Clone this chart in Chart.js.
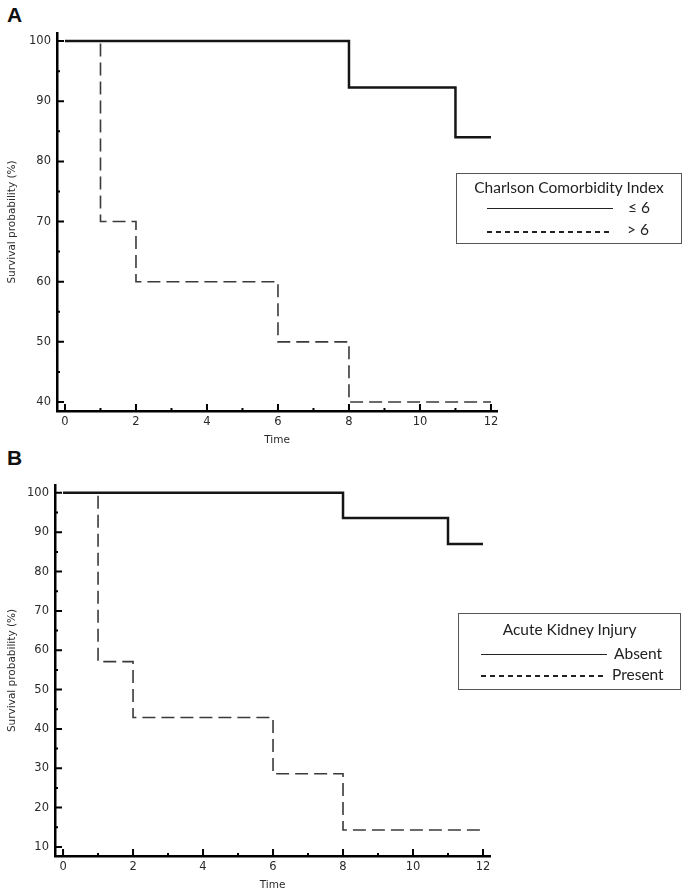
<!DOCTYPE html>
<html>
<head>
<meta charset="utf-8">
<script src="https://cdn.jsdelivr.net/npm/chart.js@4.4.1/dist/chart.umd.min.js"></script>
<style>
  html, body { margin: 0; padding: 0; background: #fff; }
  body { width: 685px; height: 894px; position: relative; overflow: hidden; }
  canvas { position: absolute; left: 0; }
  .panel { position: absolute; font: bold 21px "Liberation Sans", Arial, sans-serif; color: #111; }
  .legend { position: absolute; border: 1px solid #555; box-sizing: border-box; font-family: Lato, "Liberation Sans", sans-serif; color: #222; }
  .legend .ttl { position: absolute; left: 0; right: 0; text-align: center; font-size: 15.5px; }
  .legend .lab { position: absolute; font-size: 15.5px; }
  .legend .solid { position: absolute; height: 0; border-top: 1.6px solid #222; }
  .legend .dash { position: absolute; height: 1.6px; background: repeating-linear-gradient(90deg, #222 0 5px, transparent 5px 9px); }
</style>
</head>
<body>
<div class="panel" style="left:7px;top:3px">A</div>
<div class="panel" style="left:7px;top:446px">B</div>
<canvas id="chartA" width="685" height="450" style="top:0"></canvas>
<canvas id="chartB" width="685" height="444" style="top:450px"></canvas>

<div class="legend" style="left:456px;top:173px;width:226px;height:71px">
  <div class="ttl" style="top:4px">Charlson Comorbidity Index</div>
  <div class="solid" style="left:30px;width:126px;top:34px"></div>
  <div class="lab" style="left:171px;top:24px">≤ 6</div>
  <div class="dash" style="left:30px;width:126px;top:57px"></div>
  <div class="lab" style="left:170px;top:46px">&gt; 6</div>
</div>

<div class="legend" style="left:458px;top:613px;width:223px;height:77px">
  <div class="ttl" style="top:6px">Acute Kidney Injury</div>
  <div class="solid" style="left:22px;width:126px;top:40px"></div>
  <div class="lab" style="left:155px;top:30px">Absent</div>
  <div class="dash" style="left:22px;width:126px;top:61px"></div>
  <div class="lab" style="left:153px;top:51px">Present</div>
</div>

<script>
// tick labels
const timeTicks = [0, 2, 4, 6, 8, 10, 12];
const timeMinor = [1, 3, 5, 7, 9, 11];
const survTicksA = [40, 50, 60, 70, 80, 90, 100];
const survMinorA = [45, 55, 65, 75, 85, 95];
const survTicksB = [10, 20, 30, 40, 50, 60, 70, 80, 90, 100];
const survMinorB = [15, 25, 35, 45, 55, 65, 75, 85, 95];

// panel A - Charlson Comorbidity Index
const cciLowTime = [0, 8, 11, 12];
const cciLowSurv = [100, 92.3, 84, 84];
const cciHighTime = [0, 1, 2, 6, 8, 12];
const cciHighSurv = [100, 70, 60, 50, 40, 40];

// panel B - Acute Kidney Injury
const akiAbsentTime = [0, 8, 11, 12];
const akiAbsentSurv = [100, 93.6, 87, 87];
const akiPresentTime = [0, 1, 2, 6, 8, 12];
const akiPresentSurv = [100, 57.1, 42.9, 28.6, 14.3, 14.3];

function pts(xs, ys) {
    return xs.map(function(x, i) { return { x: x, y: ys[i] }; });
}

// small inward ticks on both axes
const axisTicks = {
    id: 'axisTicks',
    afterDraw(chart, args, opts) {
        let ctx = chart.ctx;
        let area = chart.chartArea;
        let x = chart.scales.x, y = chart.scales.y;
        ctx.save();
        ctx.strokeStyle = '#000';
        ctx.lineWidth = 2;
        ctx.beginPath();
        opts.xMajor.forEach(function(v) { let p = x.getPixelForValue(v); ctx.moveTo(p, area.bottom); ctx.lineTo(p, area.bottom - 7); });
        opts.xMinor.forEach(function(v) { let p = x.getPixelForValue(v); ctx.moveTo(p, area.bottom); ctx.lineTo(p, area.bottom - 3); });
        opts.yMajor.forEach(function(v) { let p = y.getPixelForValue(v); ctx.moveTo(area.left, p); ctx.lineTo(area.left + 7, p); });
        opts.yMinor.forEach(function(v) { let p = y.getPixelForValue(v); ctx.moveTo(area.left, p); ctx.lineTo(area.left + 3, p); });
        ctx.stroke();
        ctx.restore();
    }
};

function makeChart(id, cfg) {
    let tickFont = { family: 'DejaVu Sans', size: 11.5 };
    let titleFont = { family: 'DejaVu Sans', size: 10.5 };
    return new Chart(document.getElementById(id), {
        type: 'line',
        data: {
            datasets: [{
                data: cfg.solid,
                borderColor: '#151515',
                borderWidth: 2.5,
                stepped: true,
                pointRadius: 0
            }, {
                data: cfg.dashed,
                borderColor: '#3a3a3a',
                borderWidth: 1.6,
                borderDash: [13, 6],
                stepped: true,
                pointRadius: 0
            }]
        },
        options: {
            responsive: false,
            animation: false,
            layout: { padding: { top: cfg.top, right: cfg.right, left: 0, bottom: 0 } },
            plugins: {
                legend: { display: false },
                tooltip: { enabled: false },
                axisTicks: { xMajor: timeTicks, xMinor: timeMinor, yMajor: cfg.yTicks, yMinor: cfg.yMinor }
            },
            scales: {
                x: {
                    type: 'linear',
                    min: cfg.xMin,
                    max: cfg.xMax,
                    afterBuildTicks: function(s) { s.ticks = timeTicks.map(function(v) { return { value: v }; }); },
                    afterFit: function(s) { s.height = cfg.xHeight; },
                    grid: { display: false, drawTicks: false },
                    border: { display: true, color: '#000', width: 2.5 },
                    ticks: { font: tickFont, color: '#2a2a2a', padding: 4, maxRotation: 0, autoSkip: false },
                    title: { display: true, text: 'Time', font: titleFont, color: '#2a2a2a', padding: { top: 4, bottom: cfg.titleGap } }
                },
                y: {
                    type: 'linear',
                    min: cfg.yMin,
                    max: cfg.yMax,
                    afterBuildTicks: function(s) { s.ticks = cfg.yTicks.map(function(v) { return { value: v }; }); },
                    afterFit: function(s) { s.width = cfg.yWidth; },
                    grid: { display: false, drawTicks: false },
                    border: { display: true, color: '#000', width: 2.5 },
                    ticks: { font: tickFont, color: '#2a2a2a', padding: 6, autoSkip: false },
                    title: { display: true, text: 'Survival probability (%)', font: titleFont, color: '#2a2a2a', padding: { top: 6, bottom: 0 } }
                }
            }
        },
        plugins: [axisTicks]
    });
}

makeChart('chartA', {
    solid: pts(cciLowTime, cciLowSurv),
    dashed: pts(cciHighTime, cciHighSurv),
    yTicks: survTicksA, yMinor: survMinorA,
    xMin: -0.225, xMax: 12.17, yMin: 38.5, yMax: 101.35,
    top: 33, right: 188, yWidth: 57, xHeight: 39, titleGap: 3
});

makeChart('chartB', {
    solid: pts(akiAbsentTime, akiAbsentSurv),
    dashed: pts(akiPresentTime, akiPresentSurv),
    yTicks: survTicksB, yMinor: survMinorB,
    xMin: -0.23, xMax: 12.2, yMin: 7.7, yMax: 102,
    top: 35, right: 195, yWidth: 55, xHeight: 38, titleGap: 2
});
</script>
</body>
</html>
